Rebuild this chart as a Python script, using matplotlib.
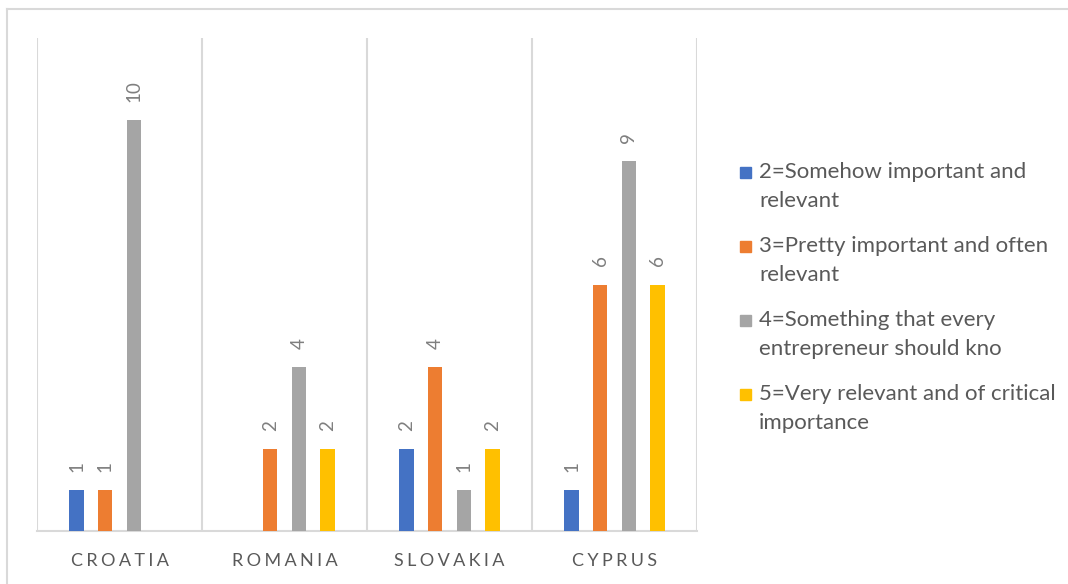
import matplotlib
matplotlib.use("Agg")
import matplotlib.pyplot as plt
from matplotlib.lines import Line2D
import numpy as np

countries = ["CROATIA", "ROMANIA", "SLOVAKIA", "CYPRUS"]
series_names = [
    ["2=Somehow important and", "relevant"],
    ["3=Pretty important and often", "relevant"],
    ["4=Something that every", "entrepreneur should kno"],
    ["5=Very relevant and of critical", "importance"],
]
# None = no answer in that category
somehow = [1, None, 2, 1]
pretty = [1, 2, 4, 6]
something = [10, 4, 1, 9]
very = [None, 2, 2, 6]
colors = ["#4472C4", "#ED7D31", "#A5A5A5", "#FFC000"]

plt.rcParams["font.family"] = ["Lato", "DejaVu Sans"]

fig = plt.figure(figsize=(10.68, 5.84), dpi=100)
W, H = 1068, 584
ax = fig.add_axes([37 / W, (H - 531) / H, 660 / W, 493 / H])

x = np.arange(len(countries))
pitch = 0.173
width = 0.088
offsets = (np.arange(4) - 1.5) * pitch
all_series = [somehow, pretty, something, very]

for vals, off, col in zip(all_series, offsets, colors):
    for xi, v in zip(x, vals):
        if v is None:
            continue
        ax.bar(xi + off, v, width=width, color=col, zorder=3)
        ax.annotate(str(v), (xi + off, v), xytext=(0, 13), textcoords="offset points",
                    rotation=90, ha="center", va="bottom", fontsize=13.5,
                    color="#7F7F7F")

ax.set_xlim(-0.5, len(countries) - 0.5)
ax.set_ylim(0, 12)
ax.set_yticks([])
ax.set_xticks([])
for s in ["top", "right", "left"]:
    ax.spines[s].set_visible(False)
ax.spines["bottom"].set_color("#D9D9D9")
ax.spines["bottom"].set_linewidth(1.5)

# vertical separators between categories
for b in np.arange(-0.5, len(countries), 1.0):
    ax.axvline(b, color="#D9D9D9", linewidth=1.5, zorder=1)

# spaced-out category labels
for xi, name in zip(x, countries):
    ax.text(xi, -0.72, "\u2009\u200a".join(name), ha="center", va="center",
            fontsize=13, color="#595959", transform=ax.transData)

# legend: square marker + two text lines per entry
for i, (lines, col) in enumerate(zip(series_names, colors)):
    y0 = 172 + i * 74
    fig.patches.append(plt.Rectangle((740 / W, 1 - (y0 + 6) / H), 11 / W, 11 / H,
                                     transform=fig.transFigure, color=col))
    for j, line in enumerate(lines):
        fig.text(759 / W, 1 - (y0 + j * 29) / H, line, ha="left", va="center",
                 fontsize=16, color="#595959")

# outer chart border
fig.add_artist(Line2D([7 / W, 7 / W], [0, 1 - 9 / H], transform=fig.transFigure,
                      color="#D9D9D9", linewidth=1.5))
fig.add_artist(Line2D([7 / W, 1], [1 - 9 / H, 1 - 9 / H], transform=fig.transFigure,
                      color="#D9D9D9", linewidth=1.5))

fig.savefig("out.png", dpi=100)
